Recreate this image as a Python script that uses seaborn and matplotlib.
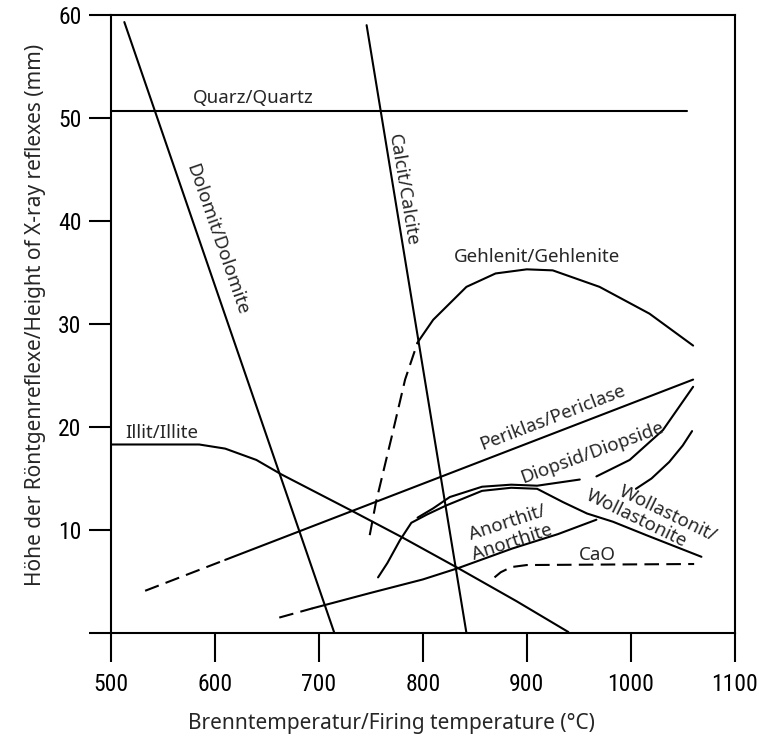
import matplotlib
matplotlib.use('Agg')
import matplotlib.pyplot as plt
from matplotlib import font_manager
import seaborn as sns

# values (temperature in degC, reflex height in mm)
quartz_t = [500, 1054]
quartz_h = [50.7, 50.7]
dolomite_t = [513, 715]
dolomite_h = [59.3, 0.0]
calcite_t = [746, 842]
calcite_h = [59.0, 0.0]
illite_t = [500, 585, 610, 640, 664, 733, 780, 834, 890, 940]
illite_h = [18.3, 18.3, 17.9, 16.8, 15.4, 11.8, 9.3, 6.3, 3.1, 0.1]
periclase_dash_t = [533, 610]
periclase_dash_h = [4.1, 7.1]
periclase_t = [610, 1060]
periclase_h = [7.1, 24.6]
anorthite_dash_t = [662, 694]
anorthite_dash_h = [1.5, 2.4]
anorthite_t = [694, 750, 800, 834, 886, 930, 967]
anorthite_h = [2.4, 3.9, 5.2, 6.3, 8.2, 9.6, 11.0]
gehlenite_dash_t = [749, 755, 770, 783, 795]
gehlenite_dash_h = [9.5, 12.7, 19.0, 24.6, 28.2]
gehlenite_t = [795, 810, 842, 870, 900, 925, 970, 1018, 1060]
gehlenite_h = [28.2, 30.4, 33.6, 34.9, 35.3, 35.2, 33.6, 31.0, 27.9]
diopside_t = [795, 810, 826, 857, 885, 910, 951]
diopside_h = [11.2, 12.1, 13.2, 14.2, 14.4, 14.3, 14.9]
diopside2_t = [967, 999, 1031, 1060]
diopside2_h = [15.2, 16.8, 19.7, 23.9]
wollastonite_t = [757, 766, 778, 789, 804, 823, 857, 885, 910, 935, 958, 983, 1015, 1068]
wollastonite_h = [5.4, 6.8, 9.0, 10.7, 11.5, 12.4, 13.8, 14.1, 14.0, 12.7, 11.6, 10.8, 9.5, 7.4]
wollastonite2_t = [1005, 1020, 1037, 1050, 1059]
wollastonite2_h = [14.0, 15.0, 16.6, 18.2, 19.6]
cao_t = [869, 875, 885, 900, 1061]
cao_h = [5.4, 5.9, 6.4, 6.6, 6.7]

x_ticks = [500, 600, 700, 800, 900, 1000, 1100]
y_ticks = [0, 10, 20, 30, 40, 50, 60]
y_ticklabels = ['', '10', '20', '30', '40', '50', '60']

sns.set_style('ticks')
plt.rcParams['font.family'] = ['Noto Sans', 'DejaVu Sans']

available = {f.name for f in font_manager.fontManager.ttflist}
narrow = next((n for n in ['Liberation Sans Narrow', 'Roboto Condensed'] if n in available), None)
if narrow:
    tick_font = dict(family=narrow, size=17)
else:
    tick_font = dict(family='DejaVu Sans', size=14, stretch='condensed')

fig = plt.figure(figsize=(7.59, 7.43), dpi=100)
ax = fig.add_axes([0.146, 0.148, 0.822, 0.832])

LW = 1.5
DASH = (0, (7, 3.5))


def draw(t, h, dashed=False):
    sns.lineplot(x=t, y=h, ax=ax, color='black', lw=LW, sort=False,
                 estimator=None, linestyle=DASH if dashed else '-')


draw(quartz_t, quartz_h)
draw(dolomite_t, dolomite_h)
draw(calcite_t, calcite_h)
draw(illite_t, illite_h)
draw(periclase_dash_t, periclase_dash_h, dashed=True)
draw(periclase_t, periclase_h)
draw(anorthite_dash_t, anorthite_dash_h, dashed=True)
draw(anorthite_t, anorthite_h)
draw(gehlenite_dash_t, gehlenite_dash_h, dashed=True)
draw(gehlenite_t, gehlenite_h)
draw(diopside_t, diopside_h)
draw(diopside2_t, diopside2_h)
draw(wollastonite_t, wollastonite_h)
draw(wollastonite2_t, wollastonite2_h)
draw(cao_t, cao_h, dashed=True)

# curve labels
lab = dict(fontsize=13.5, ha='center', va='center', rotation_mode='anchor')
ax.text(637, 51.9, 'Quarz/Quartz', **lab)
ax.text(602, 38.2, 'Dolomit/Dolomite', rotation=-70.9, **lab)
ax.text(781, 43.0, 'Calcit/Calcite', rotation=-80.6, **lab)
ax.text(910, 36.5, 'Gehlenit/Gehlenite', **lab)
ax.text(549, 19.4, 'Illit/Illite', fontweight='bold', **lab)
ax.text(925, 20.9, 'Periklas/Periclase', rotation=21, **lab)
ax.text(963, 17.5, 'Diopsid/Diopside', rotation=20, **lab)
ax.text(881, 10.7, 'Anorthit/', rotation=18, **lab)
ax.text(886, 8.8, 'Anorthite', rotation=18, **lab)
ax.text(1036, 11.6, 'Wollastonit/', rotation=-26, **lab)
ax.text(1005, 11.1, 'Wollastonite', rotation=-26, **lab)
ax.text(968, 7.6, 'CaO', **lab)

ax.set_xlim(500, 1100)
ax.set_ylim(0, 60)
ax.set_xticks(x_ticks)
ax.set_yticks(y_ticks)
ax.set_yticklabels(y_ticklabels)
for t in ax.get_xticklabels() + ax.get_yticklabels():
    t.set_fontproperties(font_manager.FontProperties(**tick_font))
ax.tick_params(axis='x', length=21, width=LW, pad=8, direction='out', colors='black')
ax.tick_params(axis='y', length=16, width=LW, pad=5, direction='out', colors='black')
for s in ax.spines.values():
    s.set_linewidth(LW)
    s.set_color('black')

ax.set_xlabel('Brenntemperatur/Firing temperature (°C)', fontsize=15)
ax.set_ylabel('Höhe der Röntgenreflexe/Height of X-ray reflexes (mm)', fontsize=15)
ax.xaxis.set_label_coords(0.45, -0.13)
ax.yaxis.set_label_coords(-0.104, 0.515)

fig.savefig('out.png', dpi=100)
